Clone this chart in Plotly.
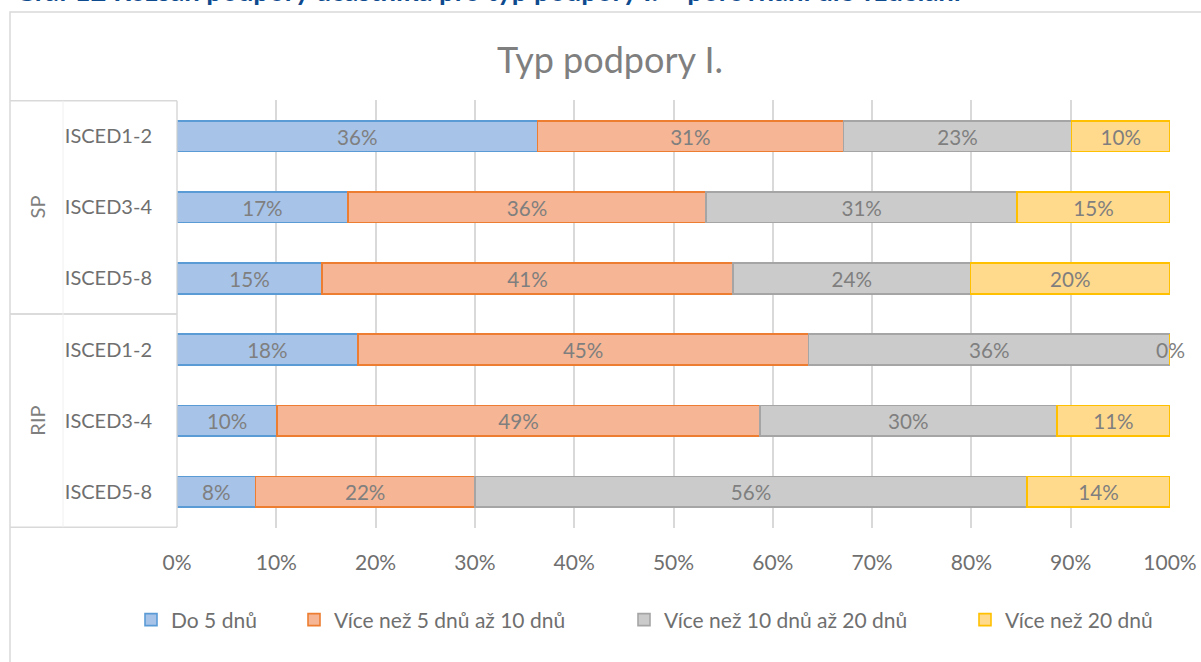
import plotly.graph_objects as go

# ---------------- data ----------------
groups = ["SP", "SP", "SP", "RIP", "RIP", "RIP"]
levels = ["ISCED1-2", "ISCED3-4", "ISCED5-8", "ISCED1-2", "ISCED3-4", "ISCED5-8"]
series_names = ["Do 5 dnů", "Více než 5 dnů až 10 dnů", "Více než 10 dnů až 20 dnů", "Více než 20 dnů"]
do_5 = [0.363, 0.172, 0.146, 0.182, 0.101, 0.079]
od_5_do_10 = [0.308, 0.361, 0.414, 0.454, 0.486, 0.221]
od_10_do_20 = [0.230, 0.313, 0.239, 0.364, 0.299, 0.556]
nad_20 = [0.099, 0.154, 0.201, 0.000, 0.114, 0.144]
x_tick_vals = [0.0, 0.1, 0.2, 0.3, 0.4, 0.5, 0.6, 0.7, 0.8, 0.9, 1.0]
x_tick_labels = ["0%", "10%", "20%", "30%", "40%", "50%", "60%", "70%", "80%", "90%", "100%"]
chart_title = "Typ podpory I."
caption = "Graf 12 Rozsah podpory účastníka pro typ podpory I. – porovnání dle vzdělání"

# ---------------- style ----------------
FONT = "Lato, 'Open Sans', sans-serif"
fills = ["#a7c3e8", "#f6b594", "#cbcbcb", "#ffd98c"]
borders = ["#5b9bd5", "#ed7d31", "#a5a5a5", "#ffc000"]
TXT = "#7f7f7f"
TICK = "#6f6f6f"
W, H = 1201, 662
L, R, T, B = 177, 1170, 100, 528
legend_px = [143, 306, 636, 977]  # left edge of each legend square


def px_x(p):
    return (p - L) / (R - L)


def px_y(p):
    return (B - p) / (B - T)


cats = [g + " " + l for g, l in zip(groups, levels)]
series = [do_5, od_5_do_10, od_10_do_20, nad_20]
legend_ids = ["legend", "legend2", "legend3", "legend4"]

fig = go.Figure()
for name, vals, fc, bc, lid in zip(series_names, series, fills, borders, legend_ids):
    fig.add_trace(go.Bar(
        y=cats, x=vals, name=name, orientation="h", legend=lid,
        marker=dict(color=fc, line=dict(color=bc, width=1.6)),
        texttemplate="%{x:.0%}",
        textposition=["inside" if v > 0 else "none" for v in vals],
        insidetextanchor="middle",
        textangle=0,
        textfont=dict(family=FONT, size=21, color=TXT),
        hoverinfo="skip",
    ))

annotations = []
# labels for zero-width segments, at the end of the stack
for i, c in enumerate(cats):
    cum = 0.0
    for vals in series:
        cum += vals[i]
        if vals[i] == 0:
            annotations.append(dict(x=cum, y=c, xref="x", yref="y", text=f"{vals[i]:.0%}",
                                    showarrow=False, xanchor="center",
                                    font=dict(family=FONT, size=21, color=TXT)))

# group labels
uniq_groups = []
for g in groups:
    if g not in uniq_groups:
        uniq_groups.append(g)
shapes = []
for g in uniq_groups:
    idx = [i for i, gg in enumerate(groups) if gg == g]
    mid = (idx[0] + idx[-1]) / 2
    annotations.append(dict(x=px_x(37), y=mid, xref="paper", yref="y", text=g, textangle=-90,
                            showarrow=False, xanchor="center", yanchor="middle",
                            font=dict(family=FONT, size=20, color=TXT)))
    for yb in (idx[0] - 0.5, idx[-1] + 0.5):
        shapes.append(dict(type="line", xref="paper", yref="y", x0=px_x(10), x1=px_x(177),
                           y0=yb, y1=yb, line=dict(color="#d9d9d9", width=1.5)))

n = len(cats)
shapes.append(dict(type="line", xref="paper", yref="y", x0=px_x(177), x1=px_x(177),
                   y0=-0.5, y1=n - 0.5, line=dict(color="#d9d9d9", width=1.5)))
shapes.append(dict(type="line", xref="paper", yref="y", x0=px_x(63), x1=px_x(63),
                   y0=-0.5, y1=n - 0.5, line=dict(color="#f0f0f0", width=1)))
# chart frame
shapes.append(dict(type="rect", xref="paper", yref="paper", x0=px_x(10), x1=px_x(1230),
                   y0=px_y(12), y1=px_y(700), line=dict(color="#d9d9d9", width=1.5),
                   layer="below"))

annotations.append(dict(x=px_x(13), y=px_y(-9), xref="paper", yref="paper",
                        text="<b>" + caption + "</b>", showarrow=False,
                        xanchor="left", yanchor="middle",
                        font=dict(family=FONT, size=27.5, color="#0e4a8e")))

legend_style = dict(orientation="h", yanchor="middle", y=px_y(620), xanchor="left",
                    font=dict(family=FONT, size=21, color=TICK), itemclick=False,
                    bgcolor="rgba(0,0,0,0)")
legends = {}
for lid, lx in zip(legend_ids, legend_px):
    legends[lid] = dict(legend_style, x=px_x(lx - 12))

fig.update_layout(
    width=W, height=H,
    margin=dict(l=L, r=W - R, t=T, b=H - B, pad=0, autoexpand=False),
    barmode="stack", bargap=0.57,
    paper_bgcolor="white", plot_bgcolor="white",
    title=dict(text=chart_title, x=610 / W, xanchor="center", y=1 - 60 / H, yanchor="middle",
               font=dict(family=FONT, size=36, color=TXT)),
    xaxis=dict(range=[0, 1], tickvals=x_tick_vals, ticktext=x_tick_labels,
               showgrid=True, gridcolor="#d9d9d9", gridwidth=1.5, zeroline=False,
               ticks="", ticklabelstandoff=20, automargin=False,
               tickfont=dict(family=FONT, size=21, color=TICK)),
    yaxis=dict(categoryorder="array", categoryarray=cats, autorange="reversed",
               tickvals=cats, ticktext=levels, ticks="", ticklabelstandoff=24,
               showgrid=False, zeroline=False, automargin=False,
               tickfont=dict(family=FONT, size=20, color=TICK)),
    annotations=annotations,
    shapes=shapes,
    showlegend=True,
    **legends,
)

fig.write_html("out.html", config={"displayModeBar": False},
               post_script="document.body.style.margin='0px';")
